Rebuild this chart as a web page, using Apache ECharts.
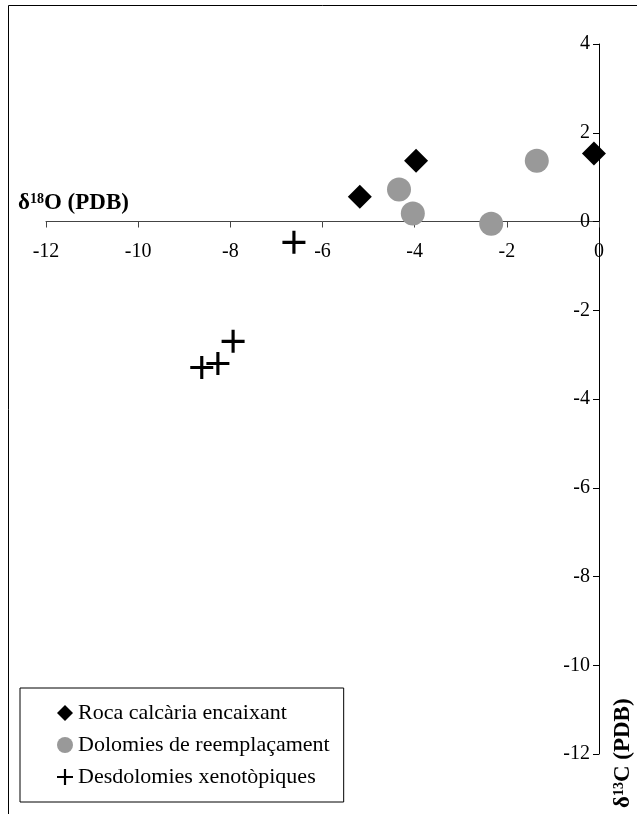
<!DOCTYPE html>
<html>
<head>
<meta charset="utf-8">
<script src="https://cdn.jsdelivr.net/npm/echarts@6/dist/echarts.min.js"></script>
<style>html,body{margin:0;padding:0;background:#fff}#c{width:637px;height:814px}</style>
</head>
<body>
<div id="c"></div>
<script>
var seriesNames = ['Roca calcària encaixant', 'Dolomies de reemplaçament', 'Desdolomies xenotòpiques'];
var rocaX = [-5.19, -3.97, -0.11];
var rocaY = [0.56, 1.37, 1.53];
var dolX = [-4.34, -4.04, -2.34, -1.35];
var dolY = [0.72, 0.18, -0.05, 1.37];
var desX = [-6.62, -7.94, -8.27, -8.62];
var desY = [-0.47, -2.70, -3.20, -3.29];
var xTicks = [-12, -10, -8, -6, -4, -2, 0];
var yTicks = [-12, -10, -8, -6, -4, -2, 0, 2, 4];

function pairs(xs, ys) { return xs.map(function (x, i) { return [x, ys[i]]; }); }
var plusPath = 'path://M-1.5,-11 L1.5,-11 L1.5,-1.5 L11,-1.5 L11,1.5 L1.5,1.5 L1.5,11 L-1.5,11 L-1.5,1.5 L-11,1.5 L-11,-1.5 L-1.5,-1.5 Z';
var FONT = '"Liberation Serif", "Times New Roman", serif';

var GL = 46, GR = 38, GT = 44, GB = 60, W = 637, H = 814;
var xMin = xTicks[0], xMax = xTicks[xTicks.length - 1];
var yMin = yTicks[0], yMax = yTicks[yTicks.length - 1];
var plotW = W - GL - GR, plotH = H - GT - GB;
// offsets so axes cross at zero
var xAxisOffset = -((0 - yMin) / (yMax - yMin)) * plotH;
var yAxisOffset = -((0 - xMin) / (xMax - xMin)) * plotW;

var chart = echarts.init(document.getElementById('c'), null, {renderer: 'canvas'});
chart.setOption({
  backgroundColor: '#fff',
  animation: false,
  grid: {left: GL, right: GR, top: GT, bottom: GB, containLabel: false},
  xAxis: {
    type: 'value', min: xMin, max: xMax, interval: 2,
    position: 'bottom', offset: xAxisOffset,
    splitLine: {show: false},
    axisLine: {onZero: false, lineStyle: {color: '#444', width: 1}},
    axisTick: {show: true, inside: false, length: 6, lineStyle: {color: '#444'}},
    axisLabel: {fontFamily: FONT, fontSize: 20, color: '#000', margin: 20}
  },
  yAxis: {
    type: 'value', min: yMin, max: yMax, interval: 2,
    position: 'left', offset: yAxisOffset,
    splitLine: {show: false},
    axisLine: {onZero: false, lineStyle: {color: '#000', width: 1}},
    axisTick: {show: true, inside: false, length: 6, lineStyle: {color: '#000'}},
    axisLabel: {fontFamily: FONT, fontSize: 20, color: '#000', margin: 9}
  },
  legend: {
    orient: 'vertical', left: 20, top: 688,
    padding: [14, 14, 14, 37],
    borderColor: '#000', borderWidth: 1,
    itemGap: 10, itemWidth: 16, itemHeight: 16,
    textStyle: {fontFamily: FONT, fontSize: 22, color: '#000', lineHeight: 22},
    data: [
      {name: seriesNames[0], icon: 'diamond'},
      {name: seriesNames[1], icon: 'circle'},
      {name: seriesNames[2], icon: plusPath}
    ]
  },
  series: [
    {name: seriesNames[0], type: 'scatter', data: pairs(rocaX, rocaY), symbol: 'diamond', symbolSize: 24, itemStyle: {color: '#000', opacity: 1}, z: 3},
    {name: seriesNames[1], type: 'scatter', data: pairs(dolX, dolY), symbol: 'circle', symbolSize: 24, itemStyle: {color: '#999', opacity: 1}, z: 2},
    {name: seriesNames[2], type: 'scatter', data: pairs(desX, desY), symbol: plusPath, symbolSize: 23, itemStyle: {color: '#000', opacity: 1}, z: 4}
  ],
  graphic: [
    {type: 'line', shape: {x1: 8.5, y1: 5.5, x2: 637, y2: 5.5}, style: {stroke: '#000', lineWidth: 1}, silent: true},
    {type: 'line', shape: {x1: 8.5, y1: 5.5, x2: 8.5, y2: 814}, style: {stroke: '#000', lineWidth: 1}, silent: true},
    {type: 'text', left: 18, top: 192, style: {
      text: '{a|δ}{s|18}{a|O (PDB)}',
      rich: {
        a: {fontFamily: FONT, fontSize: 23, fontWeight: 'bold', fill: '#000'},
        s: {fontFamily: FONT, fontSize: 14, fontWeight: 'bold', fill: '#000', verticalAlign: 'top', padding: [0, 0, 8, 0]}
      }
    }},
    {type: 'text', x: 612, y: 808, rotation: Math.PI / 2, style: {
      text: '{a|δ}{s|13}{a|C (PDB)}',
      rich: {
        a: {fontFamily: FONT, fontSize: 23, fontWeight: 'bold', fill: '#000'},
        s: {fontFamily: FONT, fontSize: 14, fontWeight: 'bold', fill: '#000', padding: [0, 0, 8, 0]}
      }
    }}
  ]
});
</script>
</body>
</html>
